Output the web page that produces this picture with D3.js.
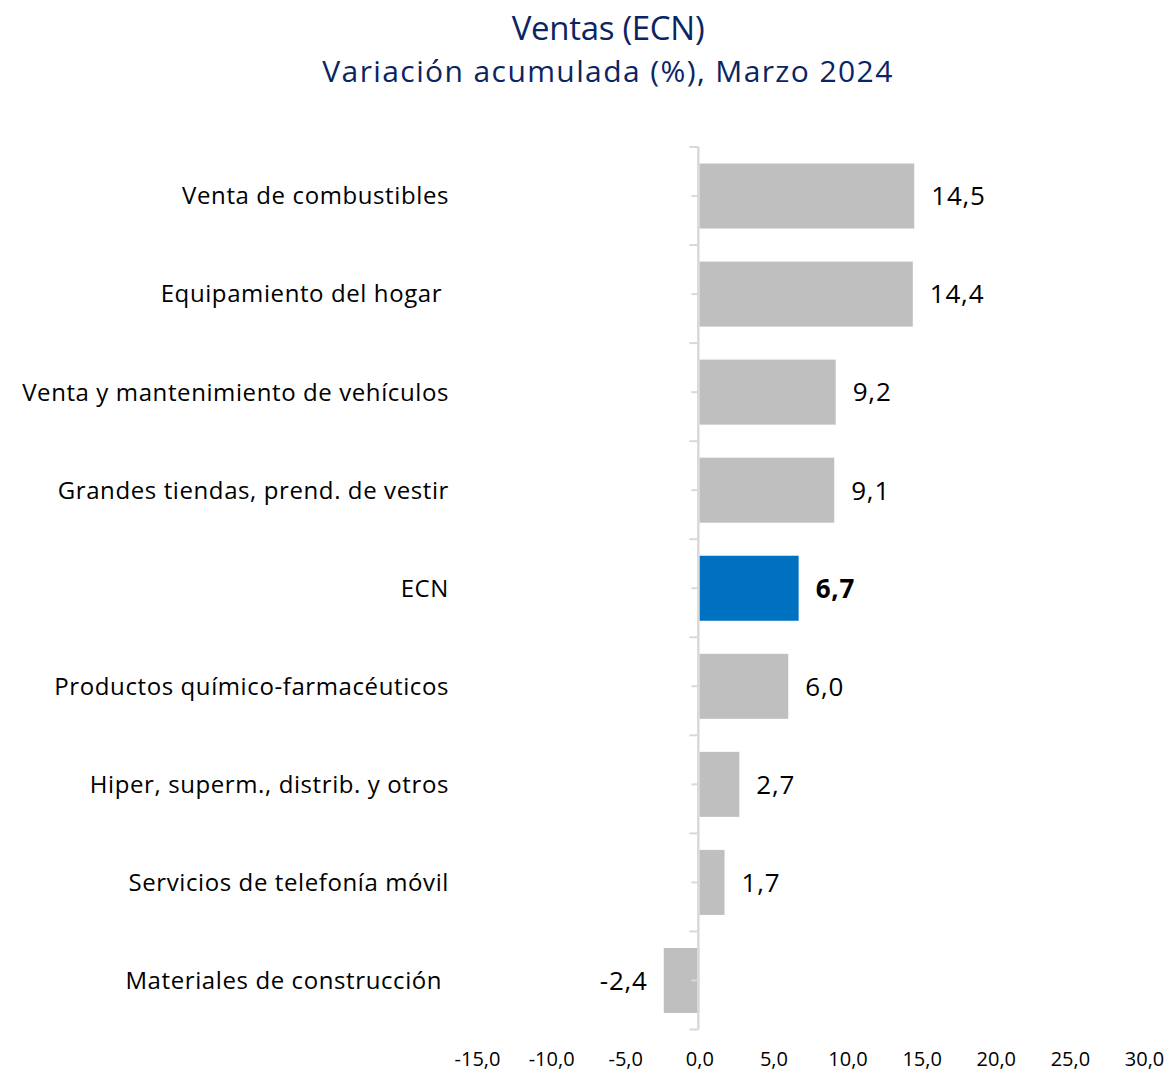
<!DOCTYPE html>
<html>
<head>
<meta charset="utf-8">
<script src="https://cdn.jsdelivr.net/npm/d3@7"></script>
<style>
  body { margin: 0; background: #fff; }
  svg { font-family: "Open Sans", "Lato", sans-serif; }
  .lbl { white-space: pre; }
</style>
</head>
<body>
<script>
// datos
const categorias = [
  "Venta de combustibles",
  "Equipamiento del hogar ",
  "Venta y mantenimiento de vehículos",
  "Grandes tiendas, prend. de vestir",
  "ECN",
  "Productos químico-farmacéuticos",
  "Hiper, superm., distrib. y otros",
  "Servicios de telefonía móvil",
  "Materiales de construcción "
]
const valores = [14.5, 14.4, 9.2, 9.1, 6.7, 6.0, 2.7, 1.7, -2.4]
const ticksX = [-15, -10, -5, 0, 5, 10, 15, 20, 25, 30]

const width = 1171
const height = 1076

const svg = d3.select("body").append("svg")
  .attr("width", width)
  .attr("height", height)

const locale = d3.formatLocale({decimal: ",", thousands: ".", grouping: [3], currency: ["", ""], minus: "-"})
const fmt = locale.format(".1f")

// titulo
svg.append("text")
  .attr("x", 608).attr("y", 40)
  .attr("text-anchor", "middle")
  .attr("fill", "#0b2562")
  .style("font-size", "33px")
  .style("font-weight", "500")
  .style("letter-spacing", "-0.3px")
  .text("Ventas (ECN)")

svg.append("text")
  .attr("x", 608).attr("y", 82)
  .attr("text-anchor", "middle")
  .attr("fill", "#0b2562")
  .style("font-size", "30px")
  .style("letter-spacing", "1.4px")
  .text("Variación acumulada (%), Marzo 2024")

const xScale = d3.scaleLinear()
  .domain([-15, 30])
  .range([477, 1144])

const yScale = d3.scaleBand()
  .domain(categorias)
  .range([147, 1029.5])
  .paddingInner(0.337)
  .paddingOuter(0.1685)

const chart = svg.append("g").attr("class", "chart")

// barras
chart.selectAll(".bar")
  .data(valores)
  .enter().append("rect")
  .attr("class", "bar")
  .attr("x", d => xScale(Math.min(0, d)))
  .attr("y", (d, i) => yScale(categorias[i]))
  .attr("width", d => Math.abs(xScale(d) - xScale(0)))
  .attr("height", yScale.bandwidth())
  .attr("fill", (d, i) => categorias[i] === "ECN" ? "#0070c0" : "#bfbfbf")

// eje y (linea + ticks)
const x0 = xScale(0) - 1
const yAxis = chart.append("g")
yAxis.append("line")
  .attr("x1", x0).attr("x2", x0)
  .attr("y1", yScale.range()[0]).attr("y2", yScale.range()[1])
  .attr("stroke", "#d9d9d9").attr("stroke-width", 2.5)

const bordes = d3.range(categorias.length + 1).map(i => yScale.range()[0] + i * yScale.step())
yAxis.selectAll(".tb")
  .data(bordes)
  .enter().append("line")
  .attr("x1", x0 - 9).attr("x2", x0)
  .attr("y1", d => d).attr("y2", d => d)
  .attr("stroke", "#d9d9d9").attr("stroke-width", 2)

yAxis.selectAll(".tc")
  .data(categorias)
  .enter().append("line")
  .attr("x1", x0 - 7).attr("x2", x0)
  .attr("y1", d => yScale(d) + yScale.bandwidth() / 2)
  .attr("y2", d => yScale(d) + yScale.bandwidth() / 2)
  .attr("stroke", "#d9d9d9").attr("stroke-width", 2)

// etiquetas categorias
chart.selectAll(".lbl")
  .data(categorias)
  .enter().append("text")
  .attr("class", "lbl")
  .attr("x", 449)
  .attr("y", d => yScale(d) + yScale.bandwidth() / 2)
  .attr("dy", "0.35em")
  .attr("text-anchor", "end")
  .attr("fill", "#000")
  .style("font-size", "24px")
  .style("letter-spacing", "0.6px")
  .text(d => d)

// valores
chart.selectAll(".val")
  .data(valores)
  .enter().append("text")
  .attr("class", "val")
  .attr("x", d => d >= 0 ? xScale(d) + 17 : xScale(d) - 16)
  .attr("y", (d, i) => yScale(categorias[i]) + yScale.bandwidth() / 2)
  .attr("dy", "0.36em")
  .attr("text-anchor", d => d >= 0 ? "start" : "end")
  .attr("fill", "#000")
  .style("font-size", "26px")
  .style("letter-spacing", "0.8px")
  .style("font-weight", (d, i) => categorias[i] === "ECN" ? "bold" : "normal")
  .text(fmt)

// eje x
const xAxis = chart.append("g")
  .attr("transform", "translate(0,1049)")
  .call(d3.axisBottom(xScale).tickValues(ticksX).tickSize(0).tickFormat(fmt))
xAxis.select(".domain").remove()
xAxis.selectAll("text")
  .style("font-family", "'Open Sans', sans-serif")
  .style("font-size", "20px")
  .attr("fill", "#000")
</script>
</body>
</html>
